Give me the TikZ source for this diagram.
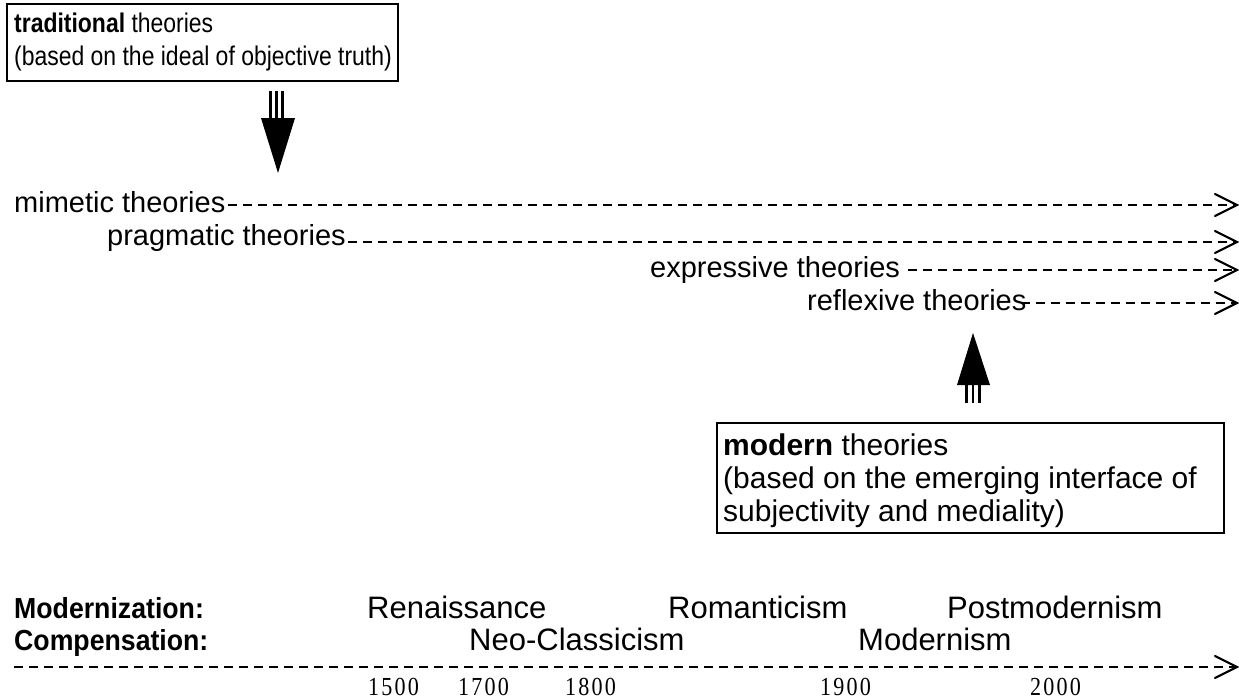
\documentclass[tikz,border=0pt]{standalone}
\usepackage{fontspec}
\setmainfont{Liberation Sans}
\newfontfamily\yearfont[LetterSpace=10]{Liberation Serif}
\begin{document}
\begin{tikzpicture}[x=1pt,y=-1pt,
  txt/.style={anchor=base west,inner sep=0pt,font=\fontsize{29}{33}\selectfont},
  btxt/.style={anchor=base west,inner sep=0pt,font=\fontsize{27}{31}\selectfont},
  mtxt/.style={anchor=base west,inner sep=0pt,font=\fontsize{30}{34}\selectfont},
  ptxt/.style={anchor=base west,inner sep=0pt,font=\fontsize{31}{35}\selectfont},
  ltxt/.style={anchor=base west,inner sep=0pt,font=\fontsize{29}{33}\selectfont\bfseries},
  yr/.style={anchor=base west,inner sep=0pt,font=\fontsize{26}{28}\yearfont},
  dline/.style={line width=2pt,dash pattern=on 9pt off 6pt},
  ahead/.style={line width=2.2pt,line cap=round,line join=miter},
  boxln/.style={line width=2pt},
  bar/.style={line width=2.5pt}]
\useasboundingbox (0,0) rectangle (1239,699);
% top box
\draw[boxln] (7,4) rectangle (398,81);
\node[btxt] (trad1) at (14,32) {\scalebox{0.85}[1]{\textbf{traditional} theories}};
\node[btxt] (trad2) at (14,65) {\scalebox{0.85}[1]{(based on the ideal of objective truth)}};
% down arrow
\foreach \xx in {270.5,276.5,282.5} \draw[bar] (\xx,91) -- (\xx,118);
\fill (261,118) -- (295,118) -- (278,173) -- cycle;
% theory rows
\node[txt] (mim) at (14,212) {mimetic theories};
\node[txt] (pra) at (107,245) {pragmatic theories};
\node[txt] (exp) at (650,277) {expressive theories};
\node[txt] (ref) at (807,310) {reflexive theories};
\coordinate (e1) at (1237,205);
\coordinate (e2) at (1237,242);
\coordinate (e3) at (1237,270);
\coordinate (e4) at (1237,303);
\coordinate (e5) at (1237,667);
\draw[dline] (mim.base east |- e1) ++(2,0) -- (e1);
\draw[dline] (pra.base east |- e2) ++(2,0) -- (e2);
\draw[dline] (exp.base east |- e3) ++(8,0) -- (e3);
\draw[dline] (ref.base east |- e4) ++(-6,0) -- (e4);
\draw[dline] (14,667) -- (e5);
\foreach \e in {e1,e2,e3,e4,e5}
  \draw[ahead] ([shift={(-22,-11)}]\e) -- (\e) -- ([shift={(-22,11)}]\e);
% up arrow
\fill (957,385) -- (990,385) -- (973,333) -- cycle;
\foreach \xx in {966.5,973,979.5} \draw[bar] (\xx,385) -- (\xx,403);
% modern box
\draw[boxln] (717,423) rectangle (1224,533);
\node[mtxt] (mod1) at (723,455) {\textbf{modern} theories};
\node[mtxt] (mod2) at (723,488) {(based on the emerging interface of};
\node[mtxt] (mod3) at (723,521) {subjectivity and mediality)};
% bottom
\node[ltxt] (mz) at (14,618) {\scalebox{0.92}[1]{Modernization:}};
\node[ltxt] (cp) at (14,650) {\scalebox{0.92}[1]{Compensation:}};
\node[ptxt] (ren) at (367,618) {Renaissance};
\node[ptxt] (rom) at (668,618) {Romanticism};
\node[ptxt] (pom) at (947,618) {Postmodernism};
\node[ptxt] (neo) at (469,650) {Neo-Classicism};
\node[ptxt] (mdn) at (858,650) {Modernism};
\node[yr] (y1) at (368,695) {\scalebox{0.85}[1]{1500}};
\node[yr] (y2) at (458,695) {\scalebox{0.85}[1]{1700}};
\node[yr] (y3) at (565,695) {\scalebox{0.85}[1]{1800}};
\node[yr] (y4) at (820,695) {\scalebox{0.85}[1]{1900}};
\node[yr] (y5) at (1030,695) {\scalebox{0.85}[1]{2000}};
\end{tikzpicture}
\end{document}
